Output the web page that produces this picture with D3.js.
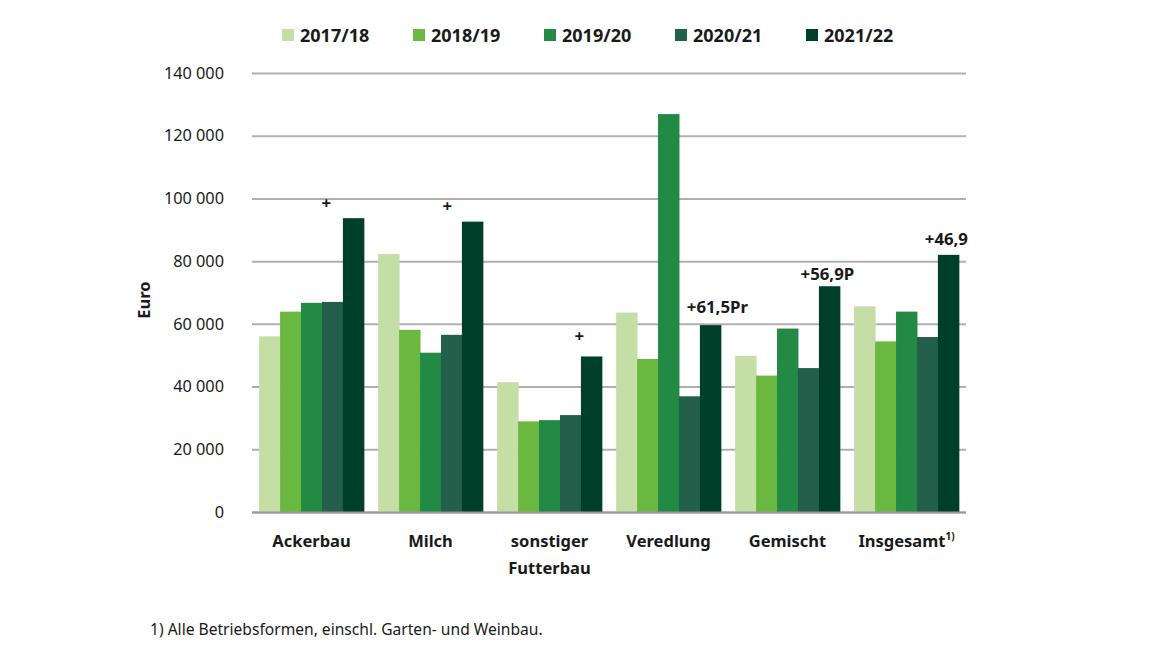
<!DOCTYPE html>
<html><head><meta charset="utf-8">
<script src="https://cdn.jsdelivr.net/npm/d3@7"></script>
<style>
body{margin:0;background:#fff;}
text{font-family:"Noto Sans",sans-serif;fill:#1a1a1a;}
</style></head>
<body><svg id="c" width="1160" height="653"></svg>
<script>
const categories = [["Ackerbau"],["Milch"],["sonstiger","Futterbau"],["Veredlung"],["Gemischt"],["Insgesamt"]];
const seriesNames = ["2017/18","2018/19","2019/20","2020/21","2021/22"];
const s2017 = [56000, 82300, 41400, 63600, 49800, 65600];
const s2018 = [63900, 58100, 28900, 48800, 43500, 54400];
const s2019 = [66700, 50800, 29300, 126900, 58500, 63900];
const s2020 = [67000, 56500, 30900, 36900, 45900, 55800];
const s2021 = [93700, 92600, 49600, 59600, 72000, 82000];
const annotations = ["+", "+", "+", "+61,5Pr", "+56,9P", "+46,9"];
const yTicks = [0,20000,40000,60000,80000,100000,120000,140000];
const footnote = "1) Alle Betriebsformen, einschl. Garten- und Weinbau.";

const colors = ["#c5dea6","#6ab840","#228a45","#235f4b","#00402a"];
const series = [s2017,s2018,s2019,s2020,s2021];
const svg = d3.select("#c");
const L=252, R=966, T=73, B=512;
const x0 = d3.scaleBand().domain(d3.range(categories.length)).range([L,R]).paddingInner(0.12).paddingOuter(0.06);
const x1 = d3.scaleBand().domain(d3.range(seriesNames.length)).range([0,x0.bandwidth()]);
const y = d3.scaleLinear().domain([0,140000]).range([B,T]);

// grid
const yAxis = d3.axisLeft(y).tickValues(yTicks).tickSize(-(R-L)).tickFormat(v=>d3.format(",")(v).replace(/,/g," "));
const ga = svg.append("g").attr("transform",`translate(${L},0)`).call(yAxis);
ga.select(".domain").remove();
ga.selectAll(".tick line").attr("stroke","#b0b0b0").attr("stroke-width",2);
ga.selectAll(".tick text").attr("x",-28).attr("font-size","16.3px").attr("fill","#333");

svg.append("text").attr("transform","translate(150,300) rotate(-90)").attr("text-anchor","middle")
  .attr("font-size","16.5px").attr("font-weight","bold").text("Euro");

// bars
const g = svg.append("g");
categories.forEach((c,i)=>{
  series.forEach((s,j)=>{
    g.append("rect").attr("x",x0(i)+x1(j)).attr("width",x1.bandwidth()+0.5)
      .attr("y",y(s[i])).attr("height",B-y(s[i])).attr("fill",colors[j]);
  });
});
// baseline
svg.append("line").attr("x1",L).attr("x2",R).attr("y1",B+0.5).attr("y2",B+0.5).attr("stroke","#9a9a9a").attr("stroke-width",2);

// annotations
const annDx = [-27,-25,-12,7,-2,-2];
const annDy = [-9,-10,-14,-12,-6,-10];
annotations.forEach((a,i)=>{
  const cx = x0(i)+x1(4)+x1.bandwidth()/2 + annDx[i];
  svg.append("text").attr("x",cx).attr("y",y(s2021[i])+annDy[i]).attr("text-anchor","middle")
    .attr("font-size","16.8px").attr("font-weight","bold").text(a);
});

// category labels
categories.forEach((c,i)=>{
  const cx = x0(i)+x0.bandwidth()/2;
  const t = svg.append("text").attr("x",cx).attr("y",547).attr("text-anchor","middle")
    .attr("font-size","16.5px").attr("font-weight","bold");
  c.forEach((line,k)=>{
    t.append("tspan").attr("x",cx).attr("dy",k===0?0:27).text(line);
  });
  if(i===5){ t.append("tspan").attr("font-size","10px").attr("dy",-7).text("1)"); }
});

// legend
seriesNames.forEach((n,j)=>{
  const lx = 282 + j*131;
  svg.append("rect").attr("x",lx).attr("y",29).attr("width",12).attr("height",12).attr("fill",colors[j]);
  svg.append("text").attr("x",lx+18).attr("y",42).attr("font-size","18px").attr("font-weight","bold").text(n);
});

svg.append("text").attr("x",150).attr("y",635).attr("font-size","15.6px").attr("fill","#333").text(footnote);
</script></body></html>
